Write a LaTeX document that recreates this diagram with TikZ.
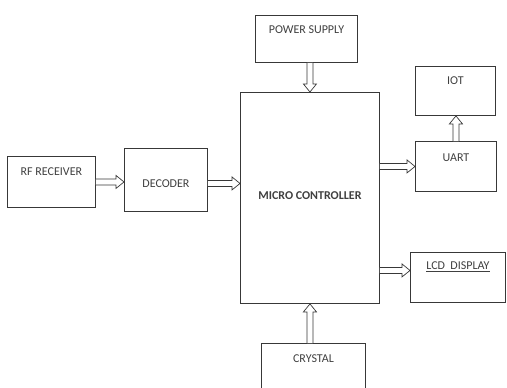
\documentclass[tikz,border=0pt]{standalone}
\usepackage{fontspec}
\setmainfont{Carlito}
\usetikzlibrary{calc}
\definecolor{linec}{gray}{0.22}
\definecolor{textc}{gray}{0.25}
\begin{document}
\begin{tikzpicture}[x=1pt,y=-1pt,
  box/.style={draw=linec, line width=0.9pt, inner sep=0pt, anchor=north west,
    text=textc, font=\fontsize{12}{14}\selectfont},
  barrow/.style={draw=linec, line width=0.7pt, fill=white, line join=miter,
    to path={let \p1=($(\tikztotarget)!8pt!(\tikztostart)$) in
      ($(\tikztostart)!3pt!90:(\tikztotarget)$) -- ($(\p1)!3pt!90:(\tikztotarget)$)
      -- ($(\p1)!6.5pt!90:(\tikztotarget)$) -- (\tikztotarget)
      -- ($(\p1)!6.5pt!-90:(\tikztotarget)$) -- ($(\p1)!3pt!-90:(\tikztotarget)$)
      -- ($(\tikztostart)!3pt!-90:(\tikztotarget)$)}}]
\useasboundingbox (0,0) rectangle (507,388);
\clip (0,0) rectangle (507,388);
\fill[white] (0,0) rectangle (507,388);

\node[box, minimum width=88pt, text height=19pt, text depth=32pt] (rf) at (7,156) {RF RECEIVER};
\node[box, minimum width=83pt, text height=39pt, text depth=24pt] (dec) at (124,148) {DECODER};
\node[box, minimum width=139pt, text height=107pt, text depth=104pt] (mc) at (240,92) {\textbf{MICRO CONTROLLER}};
\node[box, minimum width=102pt, text height=18pt, text depth=29pt] (ps) at (255,15) {POWER SUPPLY};
\node[box, minimum width=81pt, text height=20pt, text depth=30pt] (uart) at (415,141) {UART};
\node[box, minimum width=80pt, text height=18pt, text depth=31pt] (iot) at (415,66) {IOT};
\node[box, minimum width=95pt, text height=17pt, text depth=33pt] (lcd) at (410,252) {\underline{LCD\ \ DISPLAY}};
\node[box, minimum width=104pt, text height=19pt, text depth=40pt] (cry) at (261,343) {CRYSTAL};

\coordinate (a1) at (rf.east -| dec.west);
\coordinate (d1) at ([yshift=-3.5pt]dec.east);
\coordinate (a2) at (d1 -| mc.west);
\coordinate (p1) at (ps.south -| mc.north);
\coordinate (c1) at (cry.north -| mc.south);
\coordinate (m1) at (uart.west -| mc.east);
\coordinate (u1) at (uart.north |- iot.south);
\coordinate (l1) at ([yshift=7pt]lcd.west);
\coordinate (m2) at (l1 -| mc.east);

\draw[barrow] (rf.east) to (a1);
\draw[barrow] (d1) to (a2);
\draw[barrow] (p1) to (mc.north);
\draw[barrow] (c1) to (mc.south);
\draw[barrow] (m1) to (uart.west);
\draw[barrow] (uart.north) to (u1);
\draw[barrow] (m2) to (l1);
\end{tikzpicture}
\end{document}
